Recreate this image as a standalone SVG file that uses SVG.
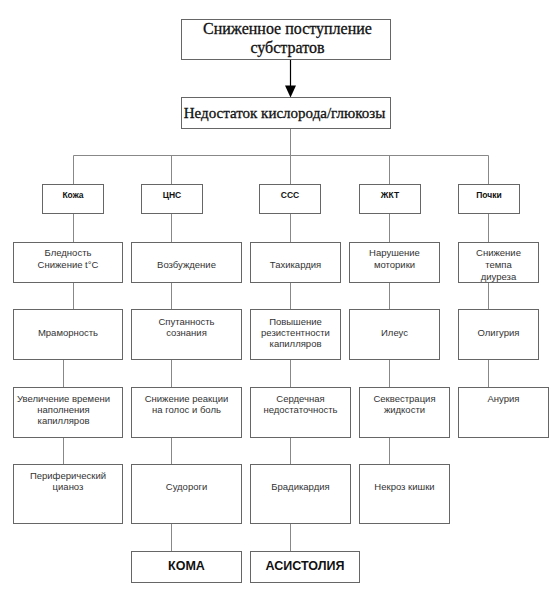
<svg xmlns="http://www.w3.org/2000/svg" width="552" height="600" viewBox="0 0 552 600">
<style>
.b{fill:#fff;stroke:#666;stroke-width:1}
.t{font-family:"Liberation Sans",Arial,sans-serif;font-size:9.5px;fill:#333;text-anchor:middle}
.h{font-family:"Liberation Sans",Arial,sans-serif;font-size:8.5px;font-weight:bold;fill:#111;text-anchor:middle}
.f{font-family:"Liberation Sans",Arial,sans-serif;font-size:12.5px;font-weight:bold;fill:#111;text-anchor:middle}
.s{font-family:"Liberation Serif","Times New Roman",serif;font-size:16px;fill:#111;stroke:#111;stroke-width:0.3;text-anchor:middle}
.c{stroke:#888;stroke-width:1;fill:none}
</style>
<g transform="translate(0.5,0.5)">
<g id="connectors">
<line x1="290" y1="59" x2="290" y2="86" stroke="#000" stroke-width="1.2"/>
<polygon points="284.5,85 295.5,85 290,97" fill="#000"/>
<path class="c" d="M290,128 V155 M73,155 H488 M73,155 V184 M171,155 V184 M290,155 V184 M389,155 V184 M488,155 V184"/>
<path class="c" d="M73,213 V242 M73,282 V309 M63,359 V387 M63,437 V464"/>
<path class="c" d="M171,213 V242 M171,282 V309 M171,359 V387 M171,437 V464 M171,523 V551"/>
<path class="c" d="M290,213 V242 M290,282 V309 M290,359 V387 M290,437 V464 M290,523 V551"/>
<path class="c" d="M389,213 V242 M389,282 V309 M389,359 V387 M389,437 V464"/>
<path class="c" d="M488,213 V242 M488,282 V309 M488,359 V387"/>
</g>
<g id="n_top"><rect class="b" x="181" y="19" width="209" height="40"/><text class="s" x="287" y="33">Сниженное поступление</text><text class="s" x="287" y="52">субстратов</text></g>
<g id="n_deficit"><rect class="b" x="181" y="97" width="209" height="31"/><text class="s" x="284" y="117" style="font-size:15px">Недостаток кислорода/глюкозы</text></g>
<g id="h_skin"><rect class="b" x="42" y="184" width="61" height="29"/><text class="h" x="72.5" y="197">Кожа</text></g>
<g id="h_cns"><rect class="b" x="141" y="184" width="61" height="29"/><text class="h" x="171.5" y="197">ЦНС</text></g>
<g id="h_cvs"><rect class="b" x="259" y="184" width="61" height="29"/><text class="h" x="289.5" y="197">ССС</text></g>
<g id="h_git"><rect class="b" x="359" y="184" width="61" height="29"/><text class="h" x="389.5" y="197">ЖКТ</text></g>
<g id="h_kid"><rect class="b" x="458" y="184" width="61" height="29"/><text class="h" x="488.5" y="197">Почки</text></g>
<g id="skin1"><rect class="b" x="13" y="242" width="109" height="40"/><text class="t" x="67.5" y="255">Бледность</text><text class="t" x="67.5" y="267">Снижение t°C</text></g>
<g id="cns1"><rect class="b" x="131" y="242" width="110" height="40"/><text class="t" x="186" y="267">Возбуждение</text></g>
<g id="cvs1"><rect class="b" x="250" y="242" width="90" height="40"/><text class="t" x="295" y="267">Тахикардия</text></g>
<g id="git1"><rect class="b" x="349" y="242" width="90" height="40"/><text class="t" x="394" y="255">Нарушение</text><text class="t" x="394" y="267">моторики</text></g>
<g id="kid1"><rect class="b" x="458" y="242" width="80" height="40"/><text class="t" x="498" y="255">Снижение</text><text class="t" x="498" y="267">темпа</text><text class="t" x="498" y="279">диуреза</text></g>
<g id="skin2"><rect class="b" x="13" y="309" width="109" height="50"/><text class="t" x="67.5" y="335">Мраморность</text></g>
<g id="cns2"><rect class="b" x="131" y="309" width="110" height="50"/><text class="t" x="186" y="324">Спутанность</text><text class="t" x="186" y="335">сознания</text></g>
<g id="cvs2"><rect class="b" x="250" y="309" width="90" height="50"/><text class="t" x="295" y="324">Повышение</text><text class="t" x="295" y="335">резистентности</text><text class="t" x="295" y="346">капилляров</text></g>
<g id="git2"><rect class="b" x="349" y="309" width="90" height="50"/><text class="t" x="394" y="335">Илеус</text></g>
<g id="kid2"><rect class="b" x="458" y="309" width="80" height="50"/><text class="t" x="498" y="335">Олигурия</text></g>
<g id="skin3"><rect class="b" x="13" y="387" width="109" height="50"/><text class="t" x="63" y="401">Увеличение времени</text><text class="t" x="63" y="412">наполнения</text><text class="t" x="63" y="423">капилляров</text></g>
<g id="cns3"><rect class="b" x="131" y="387" width="110" height="50"/><text class="t" x="186" y="401">Снижение реакции</text><text class="t" x="186" y="412">на голос и боль</text></g>
<g id="cvs3"><rect class="b" x="250" y="387" width="100" height="50"/><text class="t" x="300" y="401">Сердечная</text><text class="t" x="300" y="412">недостаточность</text></g>
<g id="git3"><rect class="b" x="359" y="387" width="90" height="50"/><text class="t" x="404" y="401">Секвестрация</text><text class="t" x="404" y="412">жидкости</text></g>
<g id="kid3"><rect class="b" x="458" y="387" width="90" height="50"/><text class="t" x="503" y="401">Анурия</text></g>
<g id="skin4"><rect class="b" x="13" y="464" width="109" height="59"/><text class="t" x="67.5" y="478">Периферический</text><text class="t" x="67.5" y="489">цианоз</text></g>
<g id="cns4"><rect class="b" x="131" y="464" width="110" height="59"/><text class="t" x="186" y="489">Судороги</text></g>
<g id="cvs4"><rect class="b" x="250" y="464" width="100" height="59"/><text class="t" x="300" y="489">Брадикардия</text></g>
<g id="git4"><rect class="b" x="359" y="464" width="90" height="59"/><text class="t" x="404" y="489">Некроз кишки</text></g>
<g id="coma"><rect class="b" x="131" y="551" width="110" height="31"/><text class="f" x="186" y="569">КОМА</text></g>
<g id="asys"><rect class="b" x="250" y="551" width="109" height="31"/><text class="f" x="304.5" y="569">АСИСТОЛИЯ</text></g>
</g>
</svg>
